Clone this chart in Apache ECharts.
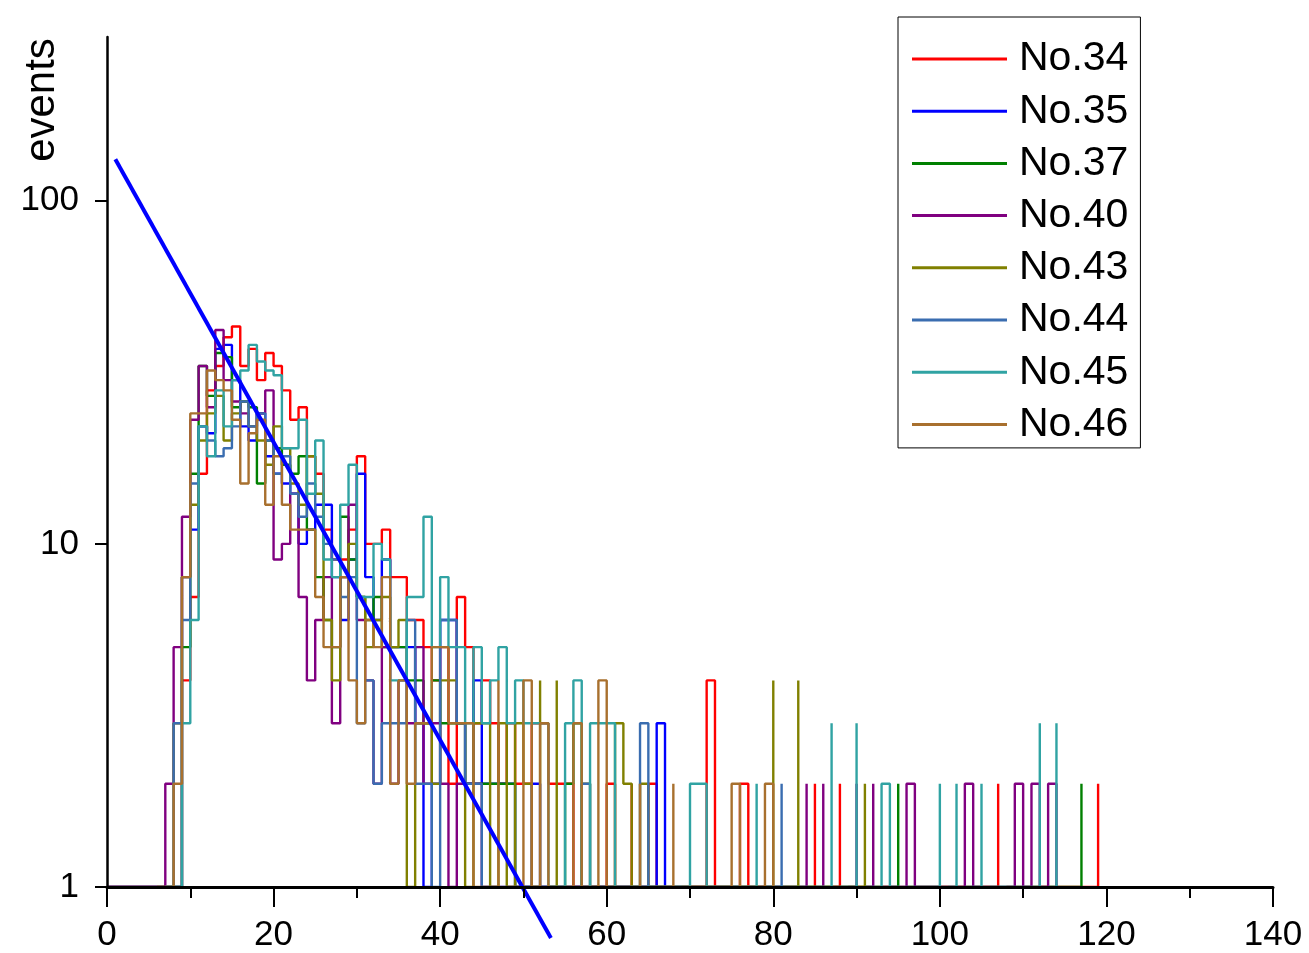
<!DOCTYPE html>
<html>
<head>
<meta charset="utf-8">
<script src="https://cdn.jsdelivr.net/npm/echarts@6/dist/echarts.min.js"></script>
<style>
  html, body { margin: 0; padding: 0; background: #ffffff; }
  #chart { width: 1309px; height: 953px; }
</style>
</head>
<body>
<div id="chart"></div>
<script>
// Histogram bins: left edge of each 1-unit bin (0 .. 120)
const bins = Array.from({ length: 121 }, (_, i) => i);

// Event counts per bin (0 = empty bin)
const no34 = [
  1,1,1,1,1,1,1,1,1,4,
  7,16,28,33,40,43,33,37,30,36,
  33,28,23,25,18,16,11,9,9,11,
  18,10,10,11,8,8,6,6,5,4,
  5,2,7,5,3,4,3,2,3,2,
  2,3,3,2,2,2,1,1,1,1,
  2,1,1,2,0,2,1,1,1,1,
  1,1,4,1,1,1,2,1,1,1,
  1,1,1,1,1,2,0,1,2,0,
  1,1,1,1,1,1,1,1,1,1,
  1,1,1,1,1,1,1,2,0,1,
  1,1,1,1,1,1,1,1,1,2,
  0
];
const no35 = [
  1,1,1,1,1,1,1,1,1,8,
  11,22,21,37,38,30,22,20,24,18,
  16,15,14,10,11,13,13,8,6,9,
  16,8,6,9,5,5,5,3,1,2,
  6,6,3,2,4,2,2,2,2,1,
  1,2,1,1,1,1,1,1,1,1,
  1,1,1,1,1,1,3,1,0,0,
  0,0,0,0,0,0,0,0,0,0,
  0,0,0,0,0,0,0,0,0,0,
  0,0,0,0,0,0,0,0,0,0,
  0,0,0,0,0,0,0,0,0,0,
  0,0,0,0,0,0,0,0,0,0,
  0
];
const no37 = [
  1,1,1,1,1,1,1,1,1,5,
  16,33,27,36,35,25,26,25,15,20,
  19,17,16,18,11,8,6,5,12,9,
  7,6,7,5,5,5,4,4,3,4,
  3,3,3,2,2,2,2,2,2,1,
  1,1,1,1,1,2,3,1,1,1,
  1,1,1,1,1,1,1,1,1,1,
  1,1,1,1,1,1,1,1,1,1,
  1,1,1,1,1,1,1,1,1,1,
  1,1,1,1,1,2,0,1,1,1,
  1,1,1,1,1,1,1,1,1,1,
  1,1,1,1,1,1,1,2,0,0,
  0
];
const no40 = [
  1,1,1,1,1,1,1,2,5,12,
  23,33,25,42,30,26,24,22,24,28,
  9,10,14,7,4,6,8,3,8,13,
  6,4,2,5,2,4,3,5,2,3,
  2,1,2,2,2,1,1,1,1,1,
  1,1,1,1,1,1,1,1,1,1,
  1,1,1,1,1,1,1,1,1,1,
  1,1,1,1,1,1,1,1,1,1,
  1,1,1,1,2,0,2,0,1,1,
  2,0,2,0,1,1,2,1,1,1,
  1,1,1,2,1,1,1,1,1,2,
  1,2,1,2,1,0,0,0,0,0,
  0
];
const no43 = [
  0,0,0,0,0,0,0,1,3,8,
  13,20,24,27,20,24,26,22,20,17,
  22,19,15,13,18,14,6,4,8,10,
  7,5,6,7,5,6,1,3,3,2,
  4,4,3,1,3,3,1,3,1,3,
  2,1,4,0,4,0,1,2,1,1,
  1,3,2,1,2,1,1,1,1,1,
  1,1,1,1,1,1,1,1,1,1,
  4,0,1,4,0,1,1,1,1,1,
  1,2,0,0,0,0,0,0,0,0,
  0,0,0,0,0,0,0,0,0,0,
  0,0,0,0,0,0,0,0,0,0,
  0
];
const no44 = [
  0,0,0,0,0,0,0,0,3,6,
  15,22,20,18,19,22,26,22,24,20,
  16,18,14,12,15,12,10,9,7,8,
  3,4,2,3,3,3,6,2,2,1,
  6,6,3,2,2,1,1,1,1,1,
  1,1,1,1,1,1,1,2,1,1,
  1,1,1,1,3,1,1,1,1,1,
  1,1,1,1,1,1,1,1,1,1,
  1,2,0,0,0,0,0,0,0,0,
  0,0,0,0,0,0,0,0,0,0,
  0,0,0,0,0,0,0,0,0,0,
  0,0,0,0,0,0,0,0,0,0,
  0
];
const no45 = [
  0,0,0,0,0,0,0,0,1,3,
  6,22,18,28,22,30,32,38,34,32,
  31,19,19,23,14,20,9,8,13,17,
  7,7,10,9,4,4,7,7,12,5,
  8,5,5,3,5,3,4,5,3,4,
  3,3,3,1,1,3,4,1,3,3,
  3,1,1,1,1,1,1,1,1,1,
  2,2,1,1,1,1,1,1,2,0,
  1,1,1,1,1,1,1,3,0,1,
  3,0,1,2,1,1,1,1,1,1,
  2,0,2,0,1,2,0,1,1,1,
  1,1,3,0,3,0,0,0,0,0,
  0
];
const no46 = [
  0,0,0,0,0,0,0,0,2,8,
  24,24,32,30,28,23,15,21,23,13,
  18,13,11,11,11,7,5,5,8,4,
  3,6,5,8,2,4,2,3,3,5,
  5,3,3,3,1,1,1,4,0,1,
  4,1,3,1,1,1,3,1,1,4,
  1,1,1,1,2,0,1,1,2,0,
  1,1,1,1,1,2,1,1,1,2,
  1,0,0,0,0,0,0,0,0,0,
  0,0,0,0,0,0,0,0,0,0,
  0,0,0,0,0,0,0,0,0,0,
  0,0,0,0,0,0,0,0,0,0,
  0
];

// Exponential fit, end points
const fitX = [1, 53.3];
const fitY = [132, 0.71];

const seriesNames = ['No.34', 'No.35', 'No.37', 'No.40', 'No.43', 'No.44', 'No.45', 'No.46'];
const seriesCounts = [no34, no35, no37, no40, no43, no44, no45, no46];
const seriesColors = ['#FF0000', '#0000FF', '#008000', '#800080', '#808000', '#3A6DB0', '#30A3A3', '#A8702E'];

const yTickLabels = ['1', '10', '100'];

// Empty bins break the trace (no top drawn for the previous bin);
// the trace restarts from the baseline at the empty bin.
function stepTrace(counts) {
  const pts = [];
  counts.forEach((c, i) => {
    if (c > 0) {
      pts.push([bins[i], c]);
    } else {
      pts.push(['-', '-']);
      pts.push([bins[i], 1]);
    }
  });
  return pts;
}

const FONT = '"Liberation Sans", Arial, sans-serif';

const series = seriesNames.map((name, s) => ({
  name: name,
  type: 'line',
  step: 'end',
  data: stepTrace(seriesCounts[s]),
  showSymbol: false,
  symbol: 'none',
  connectNulls: false,
  color: seriesColors[s],
  lineStyle: { color: seriesColors[s], width: 2.4 },
  z: 2 + s * 0.01,
  animation: false
}));

series.push({
  name: 'fit',
  type: 'line',
  data: fitX.map((x, i) => [x, fitY[i]]),
  showSymbol: false,
  symbol: 'none',
  clip: false,
  lineStyle: { color: '#0000FF', width: 4 },
  z: 4,
  animation: false
});

const chart = echarts.init(document.getElementById('chart'), null, { renderer: 'canvas' });
chart.setOption({
  backgroundColor: '#ffffff',
  animation: false,
  grid: { left: 107, right: 36, top: 37, bottom: 65, containLabel: false },
  xAxis: {
    type: 'value',
    min: 0,
    max: 140,
    interval: 20,
    z: 5,
    axisLine: { lineStyle: { color: '#000', width: 3 } },
    axisTick: { inside: false, length: 20, lineStyle: { color: '#000', width: 2 } },
    minorTick: { show: true, splitNumber: 2, length: 11, lineStyle: { color: '#000', width: 2 } },
    splitLine: { show: false },
    axisLabel: { color: '#000', fontSize: 35, fontFamily: FONT, margin: 31 }
  },
  yAxis: {
    type: 'log',
    logBase: 10,
    min: 1,
    max: 300,
    z: 5,
    axisLine: { show: true, lineStyle: { color: '#000', width: 2.5 } },
    axisTick: { show: true, inside: false, length: 12, lineStyle: { color: '#000', width: 2 } },
    splitLine: { show: false },
    axisLabel: {
      color: '#000', fontSize: 35, fontFamily: FONT, margin: 28,
      showMaxLabel: false,
      formatter: (v) => {
        const s = String(Math.round(v));
        return yTickLabels.indexOf(s) >= 0 ? s : '';
      }
    }
  },
  legend: {
    data: seriesNames,
    orient: 'vertical',
    left: 898,
    top: 17,
    icon: 'rect',
    itemWidth: 95,
    itemHeight: 3,
    itemGap: 11.2,
    padding: [21.5, 12, 3, 14],
    backgroundColor: '#ffffff',
    borderColor: '#000000',
    borderWidth: 1,
    borderRadius: 0,
    selectedMode: false,
    textStyle: { color: '#000', fontSize: 41, fontFamily: FONT, lineHeight: 40, padding: [0, 0, 0, 7] }
  },
  graphic: [{
    type: 'text',
    x: 42,
    y: 100,
    rotation: Math.PI / 2,
    style: {
      text: 'events',
      font: '42px ' + FONT,
      fill: '#000',
      textAlign: 'center',
      textVerticalAlign: 'middle'
    }
  }],
  series: series
});
</script>
</body>
</html>
